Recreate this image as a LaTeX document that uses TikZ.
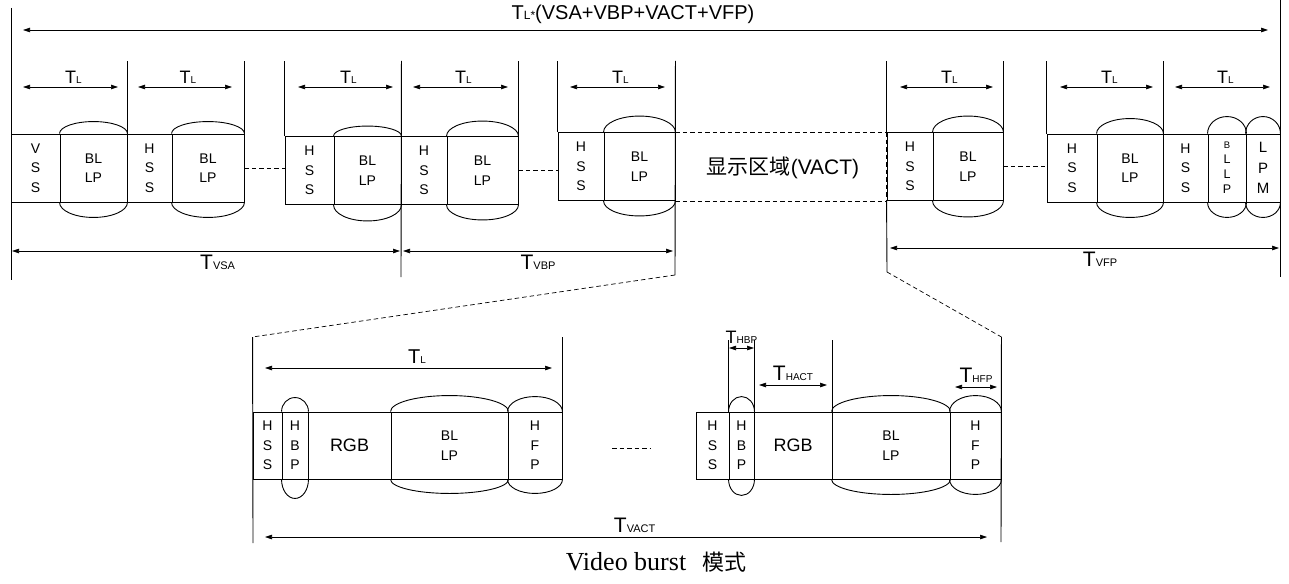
\documentclass[tikz,border=0pt]{standalone}
\usepackage{fontspec}
\setmainfont{Liberation Sans}
\newfontfamily\cjk{Noto Sans CJK SC}
\newfontfamily\capserif{Liberation Serif}
\usetikzlibrary{arrows.meta,calc}
\tikzset{
  seg/.style={draw,line width=0.9pt,inner sep=0pt,align=center,minimum height=68pt,
    font=\fontsize{14}{19.5}\selectfont},
  seglow/.style={seg,minimum height=67pt},
  seam/.style={line width=0.9pt},
  guide/.style={line width=0.9pt},
  dim/.style={{Triangle[length=7pt,width=4.5pt]}-{Triangle[length=7pt,width=4.5pt]},line width=0.6pt},
  gap/.style={line width=0.7pt,dash pattern=on 4.5pt off 3pt},
  lab/.style={inner sep=1pt}
}
% T with a small suffix on the same baseline
\newcommand{\tlab}[3]{{\fontsize{#1}{#1}\selectfont T}{\fontsize{#2}{#2}\selectfont #3}}
% elliptic caps above and below a segment
\newcommand{\bulge}[3]{%
  \draw[seam] let \p1=(#1.north west), \p2=(#1.north east) in
    (\p1) arc[start angle=180,end angle=0,x radius={(\x2-\x1)/2},y radius=#2pt];
  \draw[seam] let \p1=(#1.south west), \p2=(#1.south east) in
    (\p1) arc[start angle=180,end angle=360,x radius={(\x2-\x1)/2},y radius=#3pt];
}

\begin{document}
\begin{tikzpicture}[x=1pt,y=-1pt]
  \useasboundingbox (0,0) rectangle (1289,583);
  \coordinate (tick) at (0,61);

  % frame row
  \node[seg,minimum width=49pt] (vssA) at (35.5,168) {V\\S\\S};
  \node[seg,minimum width=67pt] (blA) at (93.5,168) {BL\\LP};
  \node[seg,minimum width=45pt] (hssB) at (149.5,168) {H\\S\\S};
  \node[seg,minimum width=72pt] (blB) at (208,168) {BL\\LP};
  \node[seg,minimum width=49pt] (hssC) at (309.5,170.5) {H\\S\\S};
  \node[seg,minimum width=67pt] (blC) at (367.5,170.5) {BL\\LP};
  \node[seg,minimum width=46pt] (hssD) at (424,170.5) {H\\S\\S};
  \node[seg,minimum width=71pt] (blD) at (482.5,170.5) {BL\\LP};
  \node[seg,minimum width=46pt] (hssE) at (581,166.5) {H\\S\\S};
  \node[seg,minimum width=71pt] (blE) at (639.5,166.5) {BL\\LP};
  \node[seg,minimum width=46pt] (hssF) at (910,166.5) {H\\S\\S};
  \node[seg,minimum width=70pt] (blF) at (968,166.5) {BL\\LP};
  \node[seg,minimum width=50pt] (hssG) at (1072,168) {H\\S\\S};
  \node[seg,minimum width=66pt] (blG) at (1130,168) {BL\\LP};
  \node[seg,minimum width=45pt] (hssH) at (1185.5,168) {H\\S\\S};
  \node[seg,minimum width=38pt,font=\fontsize{12.5}{15}\selectfont] (blH) at (1227,168)
    {{\fontsize{9.5}{9.5}\selectfont B}\\L\\L\\P};
  \node[seg,minimum width=34pt,font=\fontsize{15}{20.5}\selectfont] (lpm) at (1263,168) {L\\P\\M};
  \bulge{blA}{12}{15}
  \bulge{blB}{12}{15}
  \bulge{blC}{10}{16}
  \bulge{blD}{15}{15}
  \bulge{blE}{16}{15}
  \bulge{blF}{16}{16}
  \bulge{blG}{15}{15}
  \bulge{blH}{17}{15}
  \bulge{lpm}{17}{15}

  \draw[gap] (blB.east) -- (blB.east -| hssC.west);
  \draw[gap] (blD.east) -- (blD.east -| hssE.west);
  \draw[gap] (blF.east) -- (blF.east -| hssG.west);
  \draw[gap] (blE.north east) -- (hssF.north west);
  \draw[gap] (blE.south east) -- (hssF.south west);
  \draw[white,line width=1.4pt] (hssF.north west) -- (hssF.south west);
  \draw[gap] (hssF.north west) -- (hssF.south west);
  \node[font=\fontsize{21}{21}\selectfont] (vact) at (783,168) {{\cjk 显示区域}(VACT)};

  % guides
  \foreach \p in {blA.north east,blB.north east,hssC.north west,blD.north east,
      hssE.north west,blF.north east,hssG.north west,blG.north east}
    \draw[guide] (\p) -- (\p |- tick);
  \coordinate (zoomA) at (675,275);
  \coordinate (zoomB) at (887,272);
  \draw[guide] (11,8) -- (11,280);
  \draw[guide] (blC.north east |- tick) -- (401,277);
  \draw[guide] (blE.north east |- tick) -- (zoomA);
  \draw[guide] (hssF.north west |- tick) -- (hssF.north west);
  \draw[guide] (hssF.south west) -- (zoomB);
  \draw[guide] (1280,0) -- (1280,277);

  % timing
  \draw[dim] (23,30) -- (1268,30);
  \node[font=\fontsize{20}{20}\selectfont] (total) at (633,14) {\tlab{20}{12}{L*}(VSA+VBP+VACT+VFP)};
  \foreach \a/\b in {23/118,138/232,298/393,413/508,570/665,900/993,1060/1153,1175/1270}
    \draw[dim] (\a,87) -- node[lab,above=2pt,xshift=3pt] (tl\a) {\tlab{18}{10}{L}} (\b,87);
  \draw[dim] (12,251) -- node[lab,below=3pt,pos=0.53] (tvsa) {\tlab{21}{11}{VSA}} (400,251);
  \draw[dim] (403,251) -- node[lab,below=3pt] (tvbp) {\tlab{21}{11}{VBP}} (673,251);
  \draw[dim] (890,248) -- node[lab,below=3pt,pos=0.54] (tvfp) {\tlab{21}{11}{VFP}} (1279,248);

  % one active line
  \node[seglow,minimum width=29pt] (hssL) at (267.5,445.5) {H\\S\\S};
  \node[seglow,minimum width=26pt] (hbpL) at (295,445.5) {H\\B\\P};
  \node[seglow,minimum width=83pt,font=\fontsize{18}{18}\selectfont] (rgbL) at (349.5,445.5) {RGB};
  \node[seglow,minimum width=117pt] (blL) at (449.5,445.5) {BL\\LP};
  \node[seglow,minimum width=54pt] (hfpL) at (535,445.5) {H\\F\\P};
  \node[seglow,minimum width=33pt] (hssR) at (712.5,445.5) {H\\S\\S};
  \node[seglow,minimum width=25pt] (hbpR) at (741.5,445.5) {H\\B\\P};
  \node[seglow,minimum width=78pt,font=\fontsize{18}{18}\selectfont] (rgbR) at (793,445.5) {RGB};
  \node[seglow,minimum width=118pt] (blR) at (891,445.5) {BL\\LP};
  \node[seglow,minimum width=51pt] (hfpR) at (975.5,445.5) {H\\F\\P};
  \bulge{hbpL}{14}{19}
  \bulge{blL}{16}{14}
  \bulge{hfpL}{15}{14}
  \bulge{hbpR}{15}{16}
  \bulge{blR}{16}{15}
  \bulge{hfpR}{16}{15}
  \draw[gap] (612,448) -- (650,448);

  \draw[guide] (hssL.north west |- 0,337) -- (253,543);
  \draw[guide] (hfpL.north east) -- (hfpL.north east |- 0,337);
  \draw[guide] (hbpR.north west) -- (hbpR.north west |- 0,340);
  \draw[guide] (hbpR.north east) -- (hbpR.north east |- 0,340);
  \draw[guide] (rgbR.north east) -- (rgbR.north east |- 0,340);
  \draw[guide] (hfpR.north east |- 0,337) -- (1001,542);
  \draw[gap] (zoomA) -- (hssL.north west |- 0,337);
  \draw[gap] (zoomB) -- (hfpR.north east |- 0,337);

  \draw[dim] (265,368) -- node[lab,above=3pt,pos=0.53] (tlL) {\tlab{20}{10}{L}} (552,368);
  \draw[dim] (729,348) -- node[lab,above=3pt] (thbp) {\tlab{18}{10}{HBP}} (754,348);
  \draw[dim] (759,385) -- node[lab,above=3pt] (thact) {\tlab{21}{10}{HACT}} (827,385);
  \draw[dim] (955,387) -- node[lab,above=3pt] (thfp) {\tlab{21}{10}{HFP}} (997,387);
  \draw[dim] (265,537) -- node[lab,above=3pt,pos=0.512] (tvact) {\tlab{21}{11}{VACT}} (987,537);

  \node[font=\capserif\fontsize{26}{26}\selectfont] (caption) at (656,562)
    {Video burst\hspace{16pt}{\cjk\fontsize{22}{22}\selectfont 模式}};
\end{tikzpicture}
\end{document}
